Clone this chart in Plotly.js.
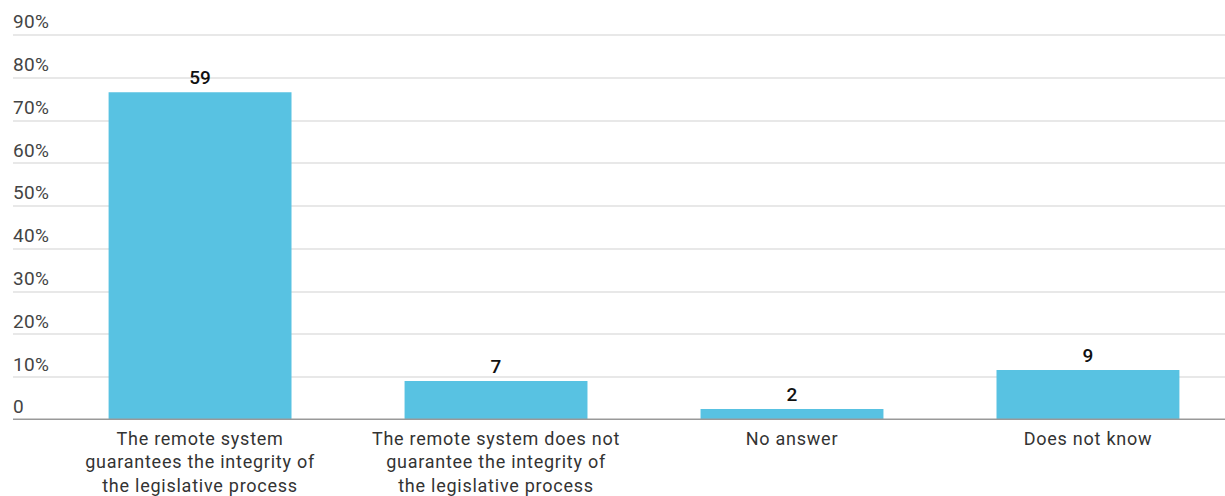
<!DOCTYPE html>
<html>
<head>
<meta charset="utf-8">
<script src="https://cdn.plot.ly/plotly-3.0.1.min.js"></script>
<style>
  html, body { margin: 0; padding: 0; background: #fff; }
  #chart { width: 1225px; height: 496px; }
  /* slightly open tracking for axis labels */
  #chart .xtick text { letter-spacing: 0.75px; }
  #chart .ytick text { letter-spacing: 0.3px; }
</style>
</head>
<body>
<div id="chart"></div>
<script>
// Survey answers: respondents per answer; bars show the share of all respondents
const categories = [
  'The remote system<br>guarantees the integrity of<br>the legislative process',
  'The remote system does not<br>guarantee the integrity of<br>the legislative process',
  'No answer',
  'Does not know'
];
const counts = [59, 7, 2, 9];
const yTickVals = [0, 10, 20, 30, 40, 50, 60, 70, 80, 90];
const yTickText = ['0', '10%', '20%', '30%', '40%', '50%', '60%', '70%', '80%', '90%'];

const total = counts.reduce((a, b) => a + b, 0);
const shares = counts.map(c => c / total * 100);

const trace = {
  type: 'bar',
  x: categories,
  y: shares,
  text: counts.map(String),
  textposition: 'outside',
  cliponaxis: false,
  textfont: { family: 'Roboto, sans-serif', size: 19, color: '#111', weight: 500 },
  marker: { color: '#58c2e2' },
  hoverinfo: 'skip'
};

const layout = {
  width: 1225,
  height: 496,
  margin: { l: 13, r: 0, t: 2, b: 76 },
  paper_bgcolor: '#fff',
  plot_bgcolor: '#fff',
  showlegend: false,
  bargap: 0.382,
  font: { family: 'Roboto, sans-serif', color: '#333' },
  xaxis: {
    type: 'category',
    range: [-0.632, 3.463],
    showgrid: false,
    zeroline: false,
    showline: false,
    ticks: '',
    ticklabelstandoff: 6,
    tickfont: { family: 'Roboto, sans-serif', size: 18, color: '#333' },
    fixedrange: true
  },
  yaxis: {
    range: [0, 97.7],
    tickvals: yTickVals,
    ticktext: yTickText,
    ticklabelposition: 'inside top',
    ticklabelstandoff: -3,
    tickfont: { family: 'Roboto, sans-serif', size: 19, color: '#444' },
    showgrid: true,
    gridcolor: '#e8e8e8',
    gridwidth: 2,
    zeroline: false,
    showline: false,
    ticks: '',
    fixedrange: true
  },
  shapes: [{
    type: 'line', xref: 'paper', yref: 'y',
    x0: 0, x1: 1, y0: 0, y1: 0,
    line: { color: '#999', width: 3 }
  }]
};

Plotly.newPlot('chart', [trace], layout, { displayModeBar: false, staticPlot: true });
</script>
</body>
</html>
